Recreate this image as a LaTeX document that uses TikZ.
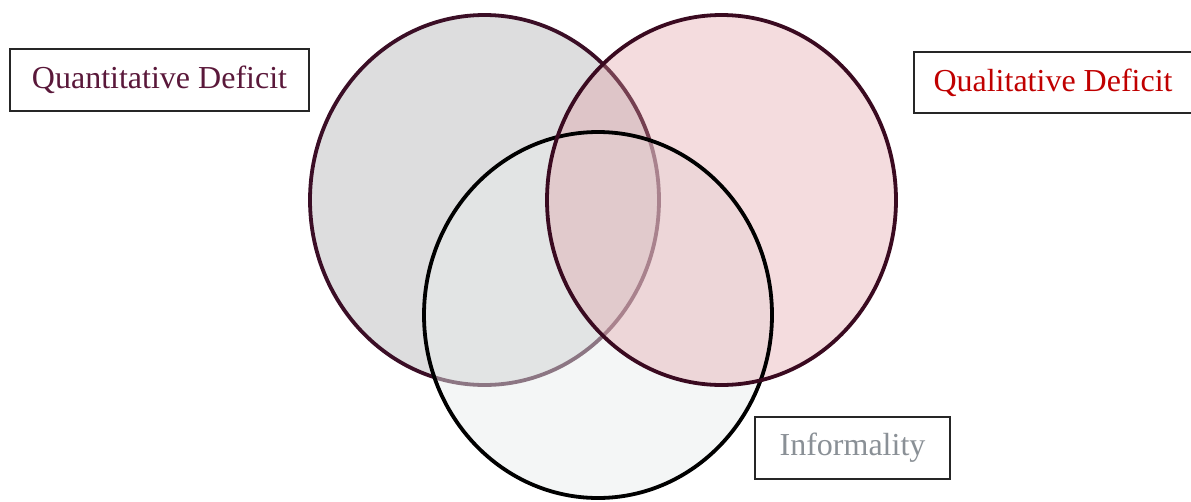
\documentclass[tikz,border=0pt]{standalone}
\usepackage{fontspec}
\setmainfont{Liberation Serif}
\definecolor{leftfill}{RGB}{221,221,222}
\definecolor{leftline}{RGB}{59,14,38}
\definecolor{rightline}{RGB}{58,10,32}
\definecolor{botfill}{RGB}{232,236,236}
\definecolor{rightfill}{RGB}{224,155,161}
\definecolor{quanttext}{RGB}{90,24,58}
\definecolor{qualtext}{RGB}{192,0,0}
\definecolor{infotext}{RGB}{138,144,150}
\begin{document}
\begin{tikzpicture}[x=1pt,y=-1pt,
  labelbox/.style={draw=black!85,line width=1.3pt,fill=white,inner sep=0pt,
    font=\fontsize{32}{34}\selectfont},
  ring/.style={line width=3.8pt}]
\useasboundingbox (0,0) rectangle (1191,501);
% left circle
\path[fill=leftfill,draw=leftline,ring] (484.5,200) ellipse [x radius=174.5pt, y radius=185pt];
% fills of the others
\path[fill=botfill,fill opacity=0.47] (598,315) ellipse [x radius=174pt, y radius=183pt];
\path[fill=rightfill,fill opacity=0.35] (721.5,200) ellipse [x radius=174.5pt, y radius=185pt];
% borders
\draw[black,ring] (598,315) ellipse [x radius=174pt, y radius=183pt];
\draw[rightline,ring] (721.5,200) ellipse [x radius=174.5pt, y radius=185pt];
% labels
\node[labelbox,minimum width=299pt,minimum height=62pt,text=quanttext] (quant) at (159.5,80) {Quantitative Deficit};
\node[labelbox,minimum width=278pt,minimum height=61pt,text=qualtext] (qual) at (1053,82.5) {Qualitative Deficit};
\node[labelbox,minimum width=195pt,minimum height=62pt,text=infotext] (info) at (852.5,448) {Informality};
\end{tikzpicture}
\end{document}
